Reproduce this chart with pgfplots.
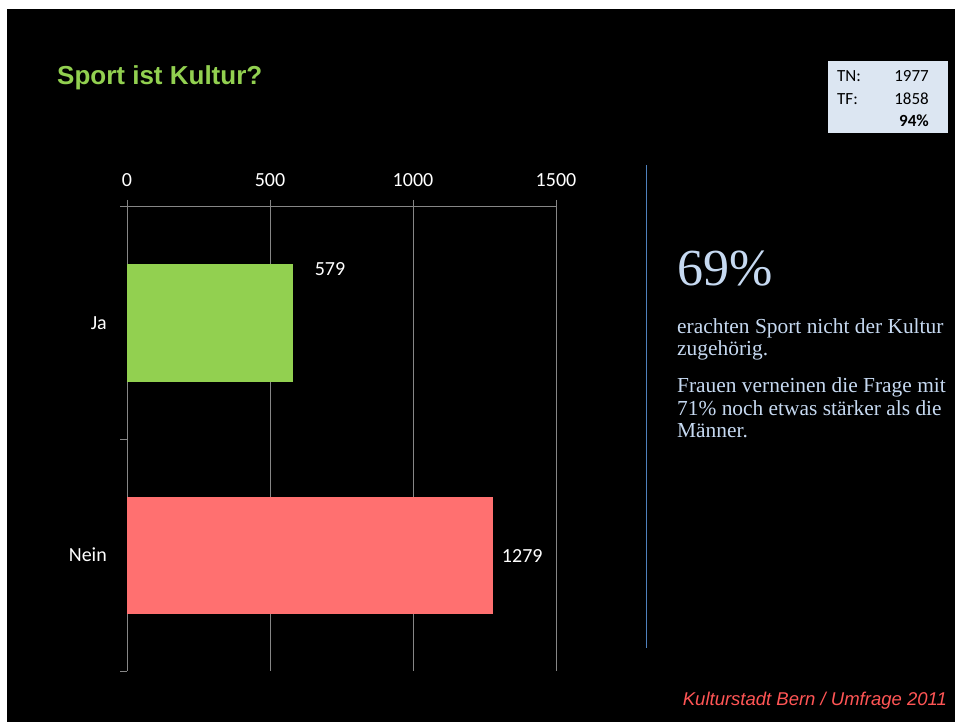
\documentclass[border=0pt]{standalone}
\usepackage{pgfplots}
\pgfplotsset{compat=1.18}
\usepackage{fontspec}
\setmainfont{Liberation Serif}
\newfontfamily\calibri{Carlito}
\newfontfamily\arial{Liberation Sans}
\definecolor{bargreen}{RGB}{146,208,80}
\definecolor{barred}{RGB}{255,112,112}
\definecolor{txtblue}{RGB}{198,217,241}
\definecolor{linblue}{RGB}{79,129,189}
\definecolor{boxbg}{RGB}{220,230,242}
\definecolor{footred}{RGB}{255,85,85}
\definecolor{gridgray}{RGB}{134,134,134}
\begin{document}
\begin{tikzpicture}[x=1pt,y=1pt]
\useasboundingbox (0,0) rectangle (955,722);
\fill[white] (0,0) rectangle (955,722);
\fill[black] (7,0) rectangle (955,713);
\begin{axis}[
  at={(127pt,51pt)}, anchor=south west,
  scale only axis, width=429pt, height=464pt,
  xbar, bar width=117pt, bar shift=0pt,
  xmin=0, xmax=1500,
  ymin=-0.5, ymax=1.5, y dir=reverse,
  axis x line*=top, axis y line*=left,
  axis line style={gridgray, line width=1pt},
  xtick={0,500,1000,1500},
  xmajorgrids, grid style={gridgray, line width=0.8pt},
  tick align=outside,
  major tick length=7pt,
  tick style={gridgray, line width=1pt},
  ytick={-0.5,0.5,1.5}, yticklabels={},
  extra y ticks={0,1}, extra y tick labels={Ja,Nein},
  extra y tick style={major tick length=0pt, grid=none},
  /pgf/number format/assume math mode=true,
  /pgf/number format/1000 sep={},
  ticklabel style={font=\calibri\fontsize{20}{24}\selectfont, text=white},
  yticklabel style={anchor=east, inner sep=0pt, xshift=-20pt},
  xticklabel style={anchor=base, inner sep=0pt, yshift=13pt},
]
\addplot[fill=bargreen, draw=none] coordinates {(579,0)};
\addplot[fill=barred, draw=none] coordinates {(1279,1)};
\node[anchor=west, inner sep=0pt, text=white, font=\calibri\fontsize{20}{24}\selectfont] at (axis cs:579,0) [xshift=22pt, yshift=53.5pt] {579};
\node[anchor=west, inner sep=0pt, text=white, font=\calibri\fontsize{20}{24}\selectfont] at (axis cs:1279,1) [xshift=9pt, yshift=-1pt] {1279};
\end{axis}
% title
\node[anchor=base west, inner sep=0pt, text=bargreen, font=\arial\bfseries\fontsize{26}{30}\selectfont] at (57,637) {Sport ist Kultur?};
% TN box
\fill[boxbg] (828,661) rectangle (948,589);
\begin{scope}[every node/.style={inner sep=0pt, text=black, font=\calibri\fontsize{17}{20}\selectfont}]
\node[anchor=base west] at (837,640) {TN:};
\node[anchor=base east] at (929,640) {1977};
\node[anchor=base west] at (837,617) {TF:};
\node[anchor=base east] at (929,617) {1858};
\node[anchor=base east, font=\calibri\bfseries\fontsize{17}{20}\selectfont] at (929,595) {94\%};
\end{scope}
% blue line
\draw[linblue, line width=1pt] (646,557) -- (646,74);
% right text
\node[anchor=base west, inner sep=0pt, text=txtblue, font=\fontsize{52}{60}\selectfont] at (677,436) {69\%};
\begin{scope}[every node/.style={anchor=base west, inner sep=0pt, text=txtblue, font=\fontsize{21.4}{24}\selectfont}]
\node at (677,388) {erachten Sport nicht der Kultur};
\node at (677,366) {zugehörig.};
\node at (677,329) {Frauen verneinen die Frage mit};
\node at (677,306.5) {71\% noch etwas stärker als die};
\node at (677,284) {Männer.};
\end{scope}
% footer
\node[anchor=base east, inner sep=0pt, text=footred, font=\arial\itshape\fontsize{18.5}{22}\selectfont] at (947,16) {Kulturstadt Bern / Umfrage 2011};
\end{tikzpicture}
\end{document}
